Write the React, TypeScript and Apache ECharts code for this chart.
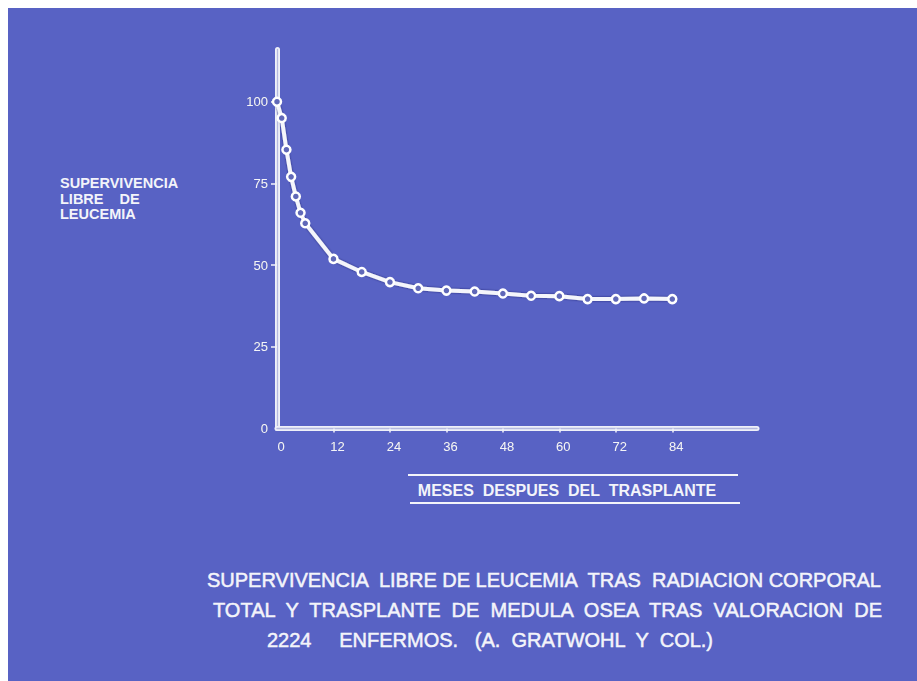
import React, { useEffect, useRef } from "react";
import * as echarts from "echarts";

// Data (months after transplant, % leukemia-free survival)
const months = [0, 1, 2, 3, 4, 5, 6, 12, 18, 24, 30, 36, 42, 48, 54, 60, 66, 72, 78, 84];
const survival = [100, 95, 85.3, 77, 71, 66, 62.8, 51.9, 47.9, 44.8, 42.9, 42.2, 41.9, 41.3, 40.6, 40.5, 39.6, 39.6, 39.8, 39.6];

const yTickValues = [0, 25, 50, 75, 100];
const yTickMarks = [25, 50, 75, 100];
const xTickValues = [0, 12, 24, 36, 48, 60, 72, 84];
const xTickMarks = [12, 24, 36, 48, 60, 72, 84];

const yTitleLines = ["SUPERVIVENCIA", "LIBRE    DE", "LEUCEMIA"];
const xTitle = "MESES  DESPUES  DEL  TRASPLANTE";
const captionLines = [
  "SUPERVIVENCIA  LIBRE DE LEUCEMIA  TRAS  RADIACION CORPORAL",
  "TOTAL  Y  TRASPLANTE  DE  MEDULA  OSEA  TRAS  VALORACION  DE",
  "2224     ENFERMOS.   (A.  GRATWOHL  Y  COL.)",
];

const BG = "#5862c4";
const INK = "#f3f4fa";
const FONT = "'Liberation Sans', 'DejaVu Sans', Arial, sans-serif";
const OFF = 8; // chart div offset on page

export default function App() {
  const ref = useRef<HTMLDivElement>(null);

  useEffect(() => {
    if (!ref.current) return;
    const chart = echarts.init(ref.current, undefined, { renderer: "svg" });

    const textShadow = { textShadowColor: "rgba(20,20,60,0.55)", textShadowBlur: 1.5 };
    const gShadow = { shadowColor: "rgba(20,20,60,0.55)", shadowBlur: 1.5 };

    const yTitleY = [183, 198.5, 214];
    const captionPos = [
      [207, 580],
      [213, 610],
      [267, 640],
    ];

    const graphics: any[] = [];
    yTitleLines.forEach((t, i) => {
      graphics.push({
        type: "text",
        x: 60 - OFF,
        y: yTitleY[i] - OFF,
        style: {
          text: t,
          fill: INK,
          font: `bold 14.5px ${FONT}`,
          verticalAlign: "middle",
          ...gShadow,
        },
      });
    });
    graphics.push({
      type: "text",
      x: 567 - OFF,
      y: 490 - OFF,
      style: {
        text: xTitle,
        fill: INK,
        font: `bold 16px ${FONT}`,
        align: "center",
        verticalAlign: "middle",
        ...gShadow,
      },
    });
    graphics.push({
      type: "line",
      shape: { x1: 408 - OFF, y1: 475 - OFF, x2: 738 - OFF, y2: 475 - OFF },
      style: { stroke: INK, lineWidth: 2 },
    });
    graphics.push({
      type: "line",
      shape: { x1: 410 - OFF, y1: 503 - OFF, x2: 740 - OFF, y2: 503 - OFF },
      style: { stroke: INK, lineWidth: 2 },
    });
    captionLines.forEach((t, i) => {
      graphics.push({
        type: "text",
        x: captionPos[i][0] - OFF,
        y: captionPos[i][1] - OFF,
        style: {
          text: t,
          fill: INK,
          font: `20px ${FONT}`,
          verticalAlign: "middle",
          stroke: INK,
          lineWidth: 0.5,
          ...gShadow,
        },
      });
    });

    const gridRect = { left: 277 - OFF, right: 160, top: 49.4 - OFF, bottom: 252.5 };

    chart.setOption({
      animation: false,
      backgroundColor: BG,
      grid: [gridRect, gridRect],
      xAxis: [
        {
          type: "value",
          gridIndex: 0,
          min: 0,
          max: 102,
          splitLine: { show: false },
          axisLine: { show: true, lineStyle: { color: "#eef0f8", width: 5 } },
          axisTick: {
            show: true,
            customValues: xTickMarks,
            length: 4,
            lineStyle: { color: INK, width: 1.5 },
          },
          axisLabel: {
            customValues: xTickValues,
            color: INK,
            fontFamily: FONT,
            fontSize: 13,
            margin: 11,
            padding: [0, 0, 0, 8],
            ...textShadow,
          },
        },
        {
          type: "value",
          gridIndex: 1,
          min: 0,
          max: 102,
          splitLine: { show: false },
          axisLine: { show: true, lineStyle: { color: "#b4b9df", width: 1.3 } },
          axisTick: { show: false },
          axisLabel: { show: false },
        },
      ],
      yAxis: [
        {
          type: "value",
          gridIndex: 0,
          min: 0,
          max: 116,
          splitLine: { show: false },
          axisLine: { show: true, lineStyle: { color: "#eef0f8", width: 5 } },
          axisTick: {
            show: true,
            customValues: yTickMarks,
            length: 6,
            lineStyle: { color: INK, width: 1.5 },
          },
          axisLabel: {
            customValues: yTickValues,
            color: INK,
            fontFamily: FONT,
            fontSize: 13,
            margin: 9,
            ...textShadow,
          },
        },
        {
          type: "value",
          gridIndex: 1,
          min: 0,
          max: 116,
          splitLine: { show: false },
          axisLine: { show: true, lineStyle: { color: "#b4b9df", width: 1.3 } },
          axisTick: { show: false },
          axisLabel: { show: false },
        },
      ],
      series: [
        {
          type: "line",
          xAxisIndex: 0,
          yAxisIndex: 0,
          data: months.map((m, i) => [m, survival[i]]),
          symbol: "circle",
          symbolSize: 8,
          lineStyle: {
            color: "#f4f5fb",
            width: 4,
            shadowColor: "rgba(20,20,70,0.6)",
            shadowBlur: 2,
          },
          itemStyle: { color: "#6068b8", borderColor: "#ffffff", borderWidth: 2.5 },
          z: 5,
        },
      ],
      graphic: graphics,
    });

    return () => chart.dispose();
  }, []);

  return (
    <div
      ref={ref}
      style={{ position: "fixed", left: OFF, top: OFF, width: 917 - OFF, height: 681 - OFF }}
    />
  );
}
